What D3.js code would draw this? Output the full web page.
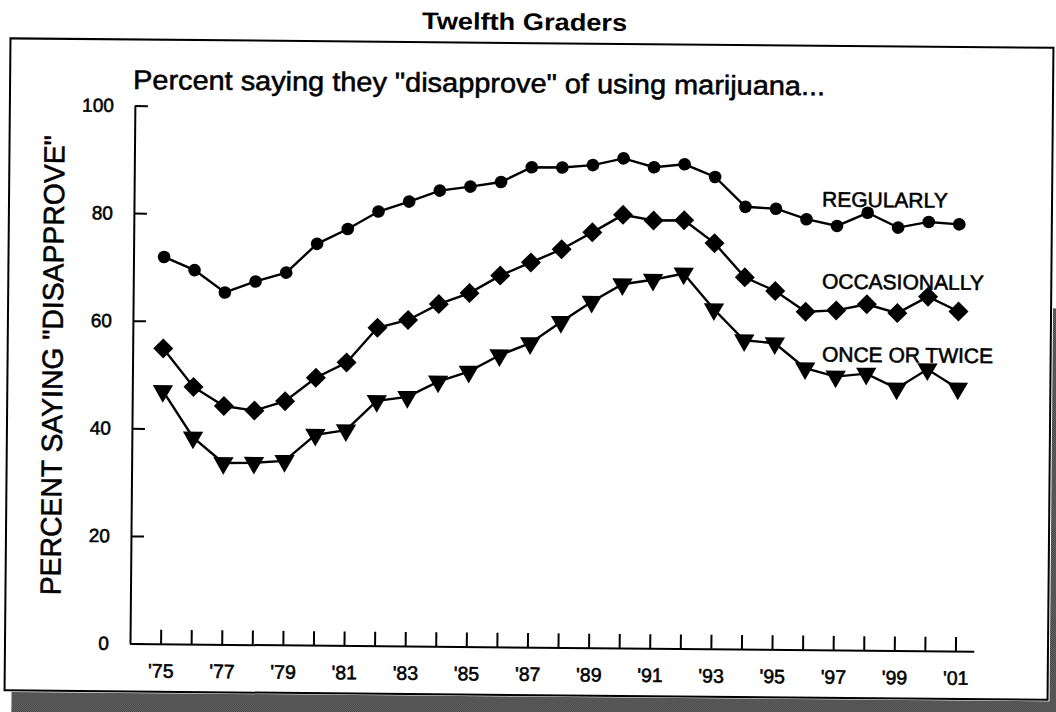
<!DOCTYPE html>
<html>
<head>
<meta charset="utf-8">
<script src="https://cdn.jsdelivr.net/npm/d3@7"></script>
<style>
  html, body { margin: 0; padding: 0; background: #fff; }
  svg { display: block; }
  text { font-family: "Liberation Sans", Arial, Helvetica, sans-serif; fill: #000; }
  .heavy { stroke: #000; stroke-width: 0.55px; }
</style>
</head>
<body>
<svg id="chart" width="1056" height="712"></svg>
<script>
// ---- data ----
const years = d3.range(1975, 2002);
const regularly = [71.9, 69.5, 65.4, 67.5, 69.2, 74.6, 77.4, 80.7, 82.6, 84.7, 85.5, 86.4, 89.2, 89.2, 89.7, 91.0, 89.4, 90.0, 87.7, 82.2, 81.9, 80.0, 78.8, 81.3, 78.6, 79.7, 79.3];
const occasionally = [54.9, 47.8, 44.3, 43.5, 45.3, 49.7, 52.6, 59.1, 60.6, 63.6, 65.7, 69.0, 71.5, 74.0, 77.2, 80.5, 79.5, 79.6, 75.4, 69.1, 66.6, 62.8, 63.1, 64.3, 62.7, 65.8, 63.1];
const onceOrTwice = [47.0, 38.4, 33.7, 33.8, 34.2, 39.1, 40.0, 45.5, 46.3, 49.2, 51.1, 54.2, 56.5, 60.5, 64.3, 67.6, 68.5, 69.7, 63.1, 57.4, 56.9, 52.3, 50.8, 51.4, 48.7, 52.3, 48.8];
const seriesNames = ["REGULARLY", "OCCASIONALLY", "ONCE OR TWICE"];
const yTicks = [0, 20, 40, 60, 80, 100];
const xLabelYears = [1975, 1977, 1979, 1981, 1983, 1985, 1987, 1989, 1991, 1993, 1995, 1997, 1999, 2001];
const chartTitle = "Twelfth Graders";
const subTitle = "Percent saying they \"disapprove\" of using marijuana...";
const yTitle = "PERCENT SAYING \"DISAPPROVE\"";

// ---- drawing ----
const svg = d3.select("#chart");
const defs = svg.append("defs");
const pat = defs.append("pattern").attr("id", "halftone")
  .attr("width", 2).attr("height", 2).attr("patternUnits", "userSpaceOnUse");
pat.append("rect").attr("width", 2).attr("height", 2).attr("fill", "#9a9a9a");
pat.append("rect").attr("x", 0).attr("y", 0).attr("width", 1).attr("height", 1).attr("fill", "#111");
pat.append("rect").attr("x", 1).attr("y", 1).attr("width", 1).attr("height", 1).attr("fill", "#111");

// whole scanned page is slightly rotated
const page = svg.append("g").attr("transform", "rotate(0.52, 131, 643.5)");

// shadow + frame
page.append("rect").attr("x", 12).attr("y", 693).attr("width", 1060).attr("height", 30).attr("fill", "url(#halftone)");
page.append("rect").attr("x", 1050).attr("y", 300).attr("width", 20).attr("height", 420).attr("fill", "url(#halftone)");
page.append("rect").attr("x", 5).attr("y", 39.5).attr("width", 1043).attr("height", 652)
  .attr("fill", "#fff").attr("stroke", "#000").attr("stroke-width", 2);

const x = d3.scaleLinear().domain([1974, 2001.6]).range([130, 973.8]);
const y = d3.scaleLinear().domain([0, 100]).range([643.5, 105.5]);

// title & subtitle
page.append("text").attr("x", 519).attr("y", 26.5).attr("text-anchor", "middle")
  .attr("font-size", 24).attr("font-weight", "bold")
  .attr("textLength", 205).attr("lengthAdjust", "spacingAndGlyphs").text(chartTitle);
page.append("text").attr("class", "heavy").attr("x", 128).attr("y", 89).attr("font-size", 27)
  .attr("textLength", 692).attr("lengthAdjust", "spacingAndGlyphs").text(subTitle);

// y axis title
page.append("text").attr("class", "heavy").attr("transform", "translate(60,366) rotate(-90)")
  .attr("text-anchor", "middle").attr("font-size", 29)
  .attr("textLength", 460).attr("lengthAdjust", "spacingAndGlyphs").text(yTitle);

// axes
const yAxis = d3.axisLeft(y).tickValues(yTicks).tickSizeInner(-13).tickSizeOuter(0).tickPadding(21);
const gy = page.append("g").attr("transform", "translate(130,0)").call(yAxis);
gy.attr("font-size", null).attr("font-family", null);
gy.select(".domain").attr("stroke-width", 2).attr("stroke", "#000");
gy.selectAll(".tick line").attr("stroke-width", 2).attr("stroke", "#000");
gy.selectAll(".tick text").attr("class", "heavy").style("font-size", "19px").attr("fill", "#000");

const xAxis = d3.axisBottom(x).tickValues(years).tickSizeInner(-14).tickSizeOuter(0).tickPadding(20)
  .tickFormat(d => xLabelYears.includes(d) ? "'" + String(d).slice(2) : "");
const gx = page.append("g").attr("transform", "translate(0,643.5)").call(xAxis);
gx.attr("font-size", null).attr("font-family", null);
gx.select(".domain").attr("stroke-width", 2).attr("stroke", "#000");
gx.selectAll(".tick line").attr("stroke-width", 2).attr("stroke", "#000");
gx.selectAll(".tick text").attr("class", "heavy").style("font-size", "19.5px").attr("fill", "#000");

// series
const series = [
  { name: seriesNames[0], values: regularly, symbol: d3.symbolCircle, size: 125, rot: 0 },
  { name: seriesNames[1], values: occasionally, symbol: d3.symbolSquare, size: 200, rot: 45 },
  { name: seriesNames[2], values: onceOrTwice, symbol: d3.symbolTriangle, size: 180, rot: 180 }
];
const line = d3.line().x((d, i) => x(years[i])).y(d => y(d));
series.forEach(s => {
  page.append("path").attr("d", line(s.values)).attr("fill", "none")
    .attr("stroke", "#000").attr("stroke-width", 2.4);
  const sym = d3.symbol().type(s.symbol).size(s.size);
  page.append("g").selectAll("path").data(s.values).join("path")
    .attr("d", sym)
    .attr("transform", (d, i) => `translate(${x(years[i])},${y(d)}) rotate(${s.rot})`)
    .attr("fill", "#000");
});

// series labels
const labelPos = [[818, 193], [818.7, 275], [819.3, 348]];
seriesNames.forEach((n, i) => {
  page.append("text").attr("class", "heavy").attr("x", labelPos[i][0]).attr("y", labelPos[i][1])
    .attr("dy", "0.35em").attr("font-size", 21).text(n);
});
</script>
</body>
</html>
